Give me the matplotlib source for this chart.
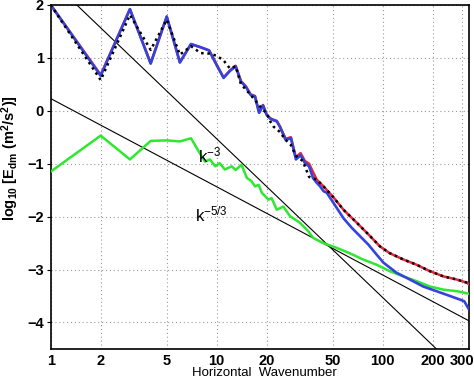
import numpy as np
import matplotlib.pyplot as plt

plt.rcParams['font.family'] = ['Liberation Sans', 'DejaVu Sans']
plt.rcParams['mathtext.fontset'] = 'custom'
plt.rcParams['mathtext.rm'] = 'Liberation Sans'
plt.rcParams['mathtext.it'] = 'Liberation Sans'
plt.rcParams['mathtext.bf'] = 'Liberation Sans:bold'
plt.rcParams['mathtext.default'] = 'regular'

# blue spectrum
k_blue = [1, 2, 3, 4, 5, 6, 7, 8, 9, 10, 11, 12, 13, 14, 15, 16, 17, 18, 19, 20,
          21, 22, 23, 24, 26, 28, 30, 32, 34, 36, 38, 40, 42, 44, 46, 50, 58, 65,
          73, 82, 92, 101, 121, 146, 175, 211, 254, 293, 310, 322, 330]
e_blue = [2.0, 0.66, 1.92, 0.89, 1.78, 0.91, 1.26, 1.2, 1.14, 0.86, 0.62, 0.75, 0.84,
          0.55, 0.45, 0.3, 0.27, -0.04, 0.1, -0.08, -0.15, -0.18, -0.2, -0.3, -0.55,
          -0.52, -0.92, -0.84, -0.99, -1.05, -1.27, -1.36, -1.43, -1.52, -1.55, -1.72,
          -2.03, -2.21, -2.37, -2.53, -2.72, -2.87, -3.06, -3.19, -3.32, -3.41, -3.5,
          -3.57, -3.6, -3.69, -3.75]

# red spectrum
k_red = [1, 2, 3, 4, 5, 6, 7, 8, 9, 10, 11, 12, 13, 14, 15, 16, 17, 18, 19, 20,
         21, 22, 23, 24, 26, 28, 30, 32, 34, 36, 40, 44, 50, 58, 70, 84, 96, 110,
         133, 160, 192, 232, 280, 322, 330]
e_red = [2.0, 0.68, 1.92, 0.9, 1.78, 0.92, 1.26, 1.2, 1.14, 0.87, 0.63, 0.76, 0.85,
         0.56, 0.46, 0.31, 0.28, -0.03, 0.11, -0.07, -0.14, -0.17, -0.19, -0.29, -0.53,
         -0.5, -0.88, -0.8, -0.95, -1.0, -1.3, -1.43, -1.62, -1.87, -2.12, -2.37,
         -2.56, -2.69, -2.81, -2.91, -3.03, -3.13, -3.19, -3.25, -3.28]

# black dotted spectrum
k_black = [1, 2, 3, 4, 5, 6, 7, 8, 9, 10, 11, 12, 13, 14, 15, 16, 17, 18, 19, 20,
           21, 22, 24, 26, 28, 30, 33, 36, 40, 44, 50, 58, 70, 84, 96, 110, 133,
           160, 192, 232, 280, 322, 330]
e_black = [2.0, 0.58, 1.81, 1.15, 1.72, 1.06, 1.22, 1.09, 1.08, 1.04, 0.95, 0.8, 0.84,
           0.5, 0.4, 0.3, 0.2, 0.1, 0.02, -0.05, -0.2, -0.3, -0.4, -0.55, -0.65,
           -0.85, -0.95, -1.25, -1.3, -1.43, -1.62, -1.87, -2.12, -2.37, -2.56,
           -2.69, -2.81, -2.91, -3.03, -3.13, -3.19, -3.25, -3.27]

# green spectrum
k_green = [1, 2, 3, 4, 5, 6, 7, 7.9, 8.5, 9.1, 9.8, 10.4, 11.2, 12.3, 13, 14.1, 15.2,
           16.2, 17, 17.9, 18.7, 20.5, 21.4, 23, 25.2, 27.6, 31.8, 35.7, 38, 43.8,
           52.7, 63, 76, 92, 110, 133, 160, 192, 232, 280, 322, 330]
e_green = [-1.15, -0.47, -0.92, -0.57, -0.56, -0.58, -0.52, -0.8, -0.96, -0.92, -1.05,
           -0.99, -1.11, -1.05, -1.12, -1.02, -1.27, -1.33, -1.43, -1.4, -1.55, -1.68,
           -1.65, -1.87, -1.81, -1.99, -2.12, -2.28, -2.4, -2.5, -2.59, -2.69, -2.81,
           -2.91, -3.03, -3.13, -3.22, -3.32, -3.38, -3.41, -3.45, -3.46]

# reference slopes
k_ref = [1, 330]
off_k3 = 2.47
off_k53 = 0.23

xticks = [1, 2, 5, 10, 20, 50, 100, 200, 300]
yticks = [-4, -3, -2, -1, 0, 1, 2]

fig = plt.figure(figsize=(4.74, 3.78), dpi=100)
ax = fig.add_axes([0.107, 0.077, 0.882, 0.910])
ax.set_xscale('log')

kr = np.array(k_ref, dtype=float)
ax.plot(kr, off_k3 - 3 * np.log10(kr), color='black', lw=0.8, zorder=2)
ax.plot(kr, off_k53 - 5 / 3 * np.log10(kr), color='black', lw=0.8, zorder=2)

ax.plot(k_red, e_red, color='#e8233c', lw=1.8, zorder=3)
ax.plot(k_green, e_green, color='#2ee82e', lw=1.8, zorder=3)
ax.plot(k_blue, e_blue, color='#3344dd', lw=1.9, zorder=4)
ax.plot(k_black, e_black, color='black', lw=1.8, ls=(0, (1, 1.5)), zorder=5)

ax.text(7.7, -0.98, r'k$^{-3}$', fontsize=12)
ax.text(7.4, -2.09, r'k$^{-5/3}$', fontsize=12)

ax.set_xlim(1, 330)
ax.set_ylim(-4.5, 2)
ax.set_xticks(xticks)
ax.set_xticklabels([str(t) for t in xticks], fontweight='bold')
ax.minorticks_off()
ax.set_yticks(yticks)
ax.set_yticklabels([str(t).replace('-', '\u2212') for t in yticks], fontweight='bold')
ax.tick_params(axis='x', length=0, labelsize=10.5, pad=4)
ax.tick_params(axis='y', length=3, width=0.8, labelsize=10.5, pad=2)
ax.grid(True, color='#999999', ls=(0, (1, 2.5)), lw=0.8)
for s in ax.spines.values():
    s.set_linewidth(1.2)

ax.set_xlabel('Horizontal  Wavenumber', fontsize=9.5)
ax.xaxis.set_label_coords(0.51, -0.054, transform=ax.transAxes)
ax.xaxis.label.set_va('top')
ax.set_ylabel(r'log$_{10}$ [E$_{dm}$ (m$^2$/s$^2$)]', fontsize=10.5, fontweight='bold')
ax.yaxis.set_label_coords(-0.07, 0.555)

fig.savefig('out.png', dpi=100)
